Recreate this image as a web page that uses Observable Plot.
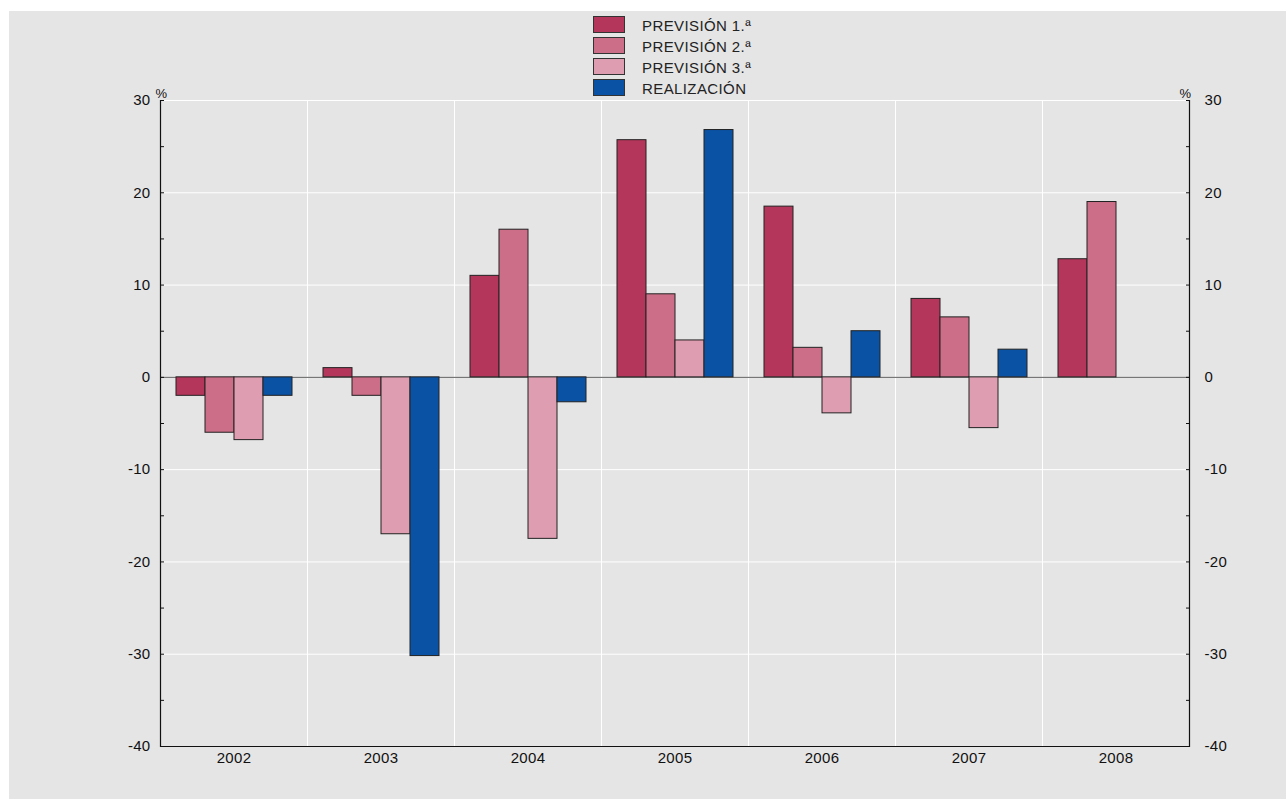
<!DOCTYPE html>
<html>
<head>
<meta charset="utf-8">
<script src="https://cdn.jsdelivr.net/npm/d3@7"></script>
<script src="https://cdn.jsdelivr.net/npm/@observablehq/plot@0.6"></script>
<style>
  html, body { margin: 0; padding: 0; background: #ffffff; }
  body { width: 1286px; height: 799px; position: relative; overflow: hidden; font-family: "Liberation Sans", Arial, sans-serif; }
  #panel { position: absolute; left: 9px; top: 11px; width: 1277px; height: 788px; background: #e5e5e5; }
  #legend { position: absolute; left: 584px; top: 3px; }
  .row { display: flex; align-items: center; height: 21px; }
  .sw { width: 32px; height: 17px; box-sizing: border-box; border: 1px solid #333; }
  .lab { margin-left: 17px; font-size: 15px; letter-spacing: 0.4px; color: #222; line-height: 17px; padding-top: 1px; }
  #chart { position: absolute; left: 0; top: 0; }
  #chart svg text { letter-spacing: 0.3px; }
</style>
</head>
<body>
<div id="panel">
  <div id="chart"></div>
  <div id="legend"></div>
</div>
<script>
const years = ["2002", "2003", "2004", "2005", "2006", "2007", "2008"];
const seriesNames = ["PREVISIÓN 1.ª", "PREVISIÓN 2.ª", "PREVISIÓN 3.ª", "REALIZACIÓN"];
const prevision1 = [-2, 1, 11, 25.7, 18.5, 8.5, 12.8];
const prevision2 = [-6, -2, 16, 9, 3.2, 6.5, 19];
const prevision3 = [-6.8, -17, -17.5, 4, -3.9, -5.5, null];
const realizacion = [-2, -30.2, -2.7, 26.8, 5, 3, null];
const colors = ["#b5365b", "#cc6e87", "#de9db0", "#0a52a3"];
const yTicks = d3.range(-40, 31, 5);
const yLabels = d3.range(-40, 31, 10);

const seriesValues = [prevision1, prevision2, prevision3, realizacion];
const rows = [];
years.forEach((yr, i) => {
  seriesNames.forEach((s, k) => {
    const v = seriesValues[k][i];
    if (v != null) rows.push({year: yr, series: s, value: v});
  });
});

const fmt = d => (d % 10 === 0 ? String(d) : "");

const chart = Plot.plot({
  width: 1277,
  height: 780,
  marginLeft: 149,
  marginRight: 96,
  marginTop: 89,
  marginBottom: 45,
  style: {background: "transparent", fontFamily: "Liberation Sans, Arial, sans-serif", fontSize: "15px", color: "#111"},
  fx: {domain: years, padding: 0, label: null},
  x: {domain: seriesNames, paddingInner: 0, paddingOuter: 0.5, axis: null},
  y: {domain: [-40, 30], label: null},
  color: {domain: seriesNames, range: colors},
  marks: [
    Plot.frame({stroke: "white", strokeWidth: 1}),
    Plot.gridY(yLabels, {stroke: "white", strokeOpacity: 1, strokeWidth: 1}),
    Plot.ruleY([0], {stroke: "#5e5e5e", strokeWidth: 1}),
    Plot.barY(rows, {fx: "year", x: "series", y: "value", fill: "series", stroke: "#222", strokeWidth: 1}),
    Plot.ruleY([-40], {stroke: "#111", strokeWidth: 1.2}),
    Plot.frame({anchor: "left", stroke: "#111", strokeWidth: 1.2, facetAnchor: "left"}),
    Plot.frame({anchor: "right", stroke: "#111", strokeWidth: 1.2, facetAnchor: "right"}),
    Plot.axisY({anchor: "left", ticks: yTicks, tickFormat: fmt, tickSize: -4, tickPadding: 14, fontSize: 15, label: null, stroke: "#111"}),
    Plot.axisY({anchor: "right", ticks: yTicks, tickFormat: fmt, tickSize: -4, tickPadding: 19, fontSize: 15, label: null, stroke: "#111"}),
    Plot.axisFx({anchor: "bottom", tickSize: 0, tickPadding: 6, fontSize: 15, label: null}),
    Plot.text(["%"], {fx: () => years[0], frameAnchor: "top-left", textAnchor: "middle", lineAnchor: "bottom", dy: -3, dx: 1, fontSize: 13, fill: "#111"}),
    Plot.text(["%"], {fx: () => years[years.length - 1], frameAnchor: "top-right", textAnchor: "middle", lineAnchor: "bottom", dy: -3, dx: -4, fontSize: 13, fill: "#111"})
  ]
});
document.getElementById("chart").appendChild(chart);

const legend = document.getElementById("legend");
seriesNames.forEach((s, k) => {
  const row = document.createElement("div");
  row.className = "row";
  const sw = document.createElement("div");
  sw.className = "sw";
  sw.style.background = colors[k];
  const lab = document.createElement("div");
  lab.className = "lab";
  lab.textContent = s;
  row.appendChild(sw);
  row.appendChild(lab);
  legend.appendChild(row);
});
</script>
</body>
</html>
